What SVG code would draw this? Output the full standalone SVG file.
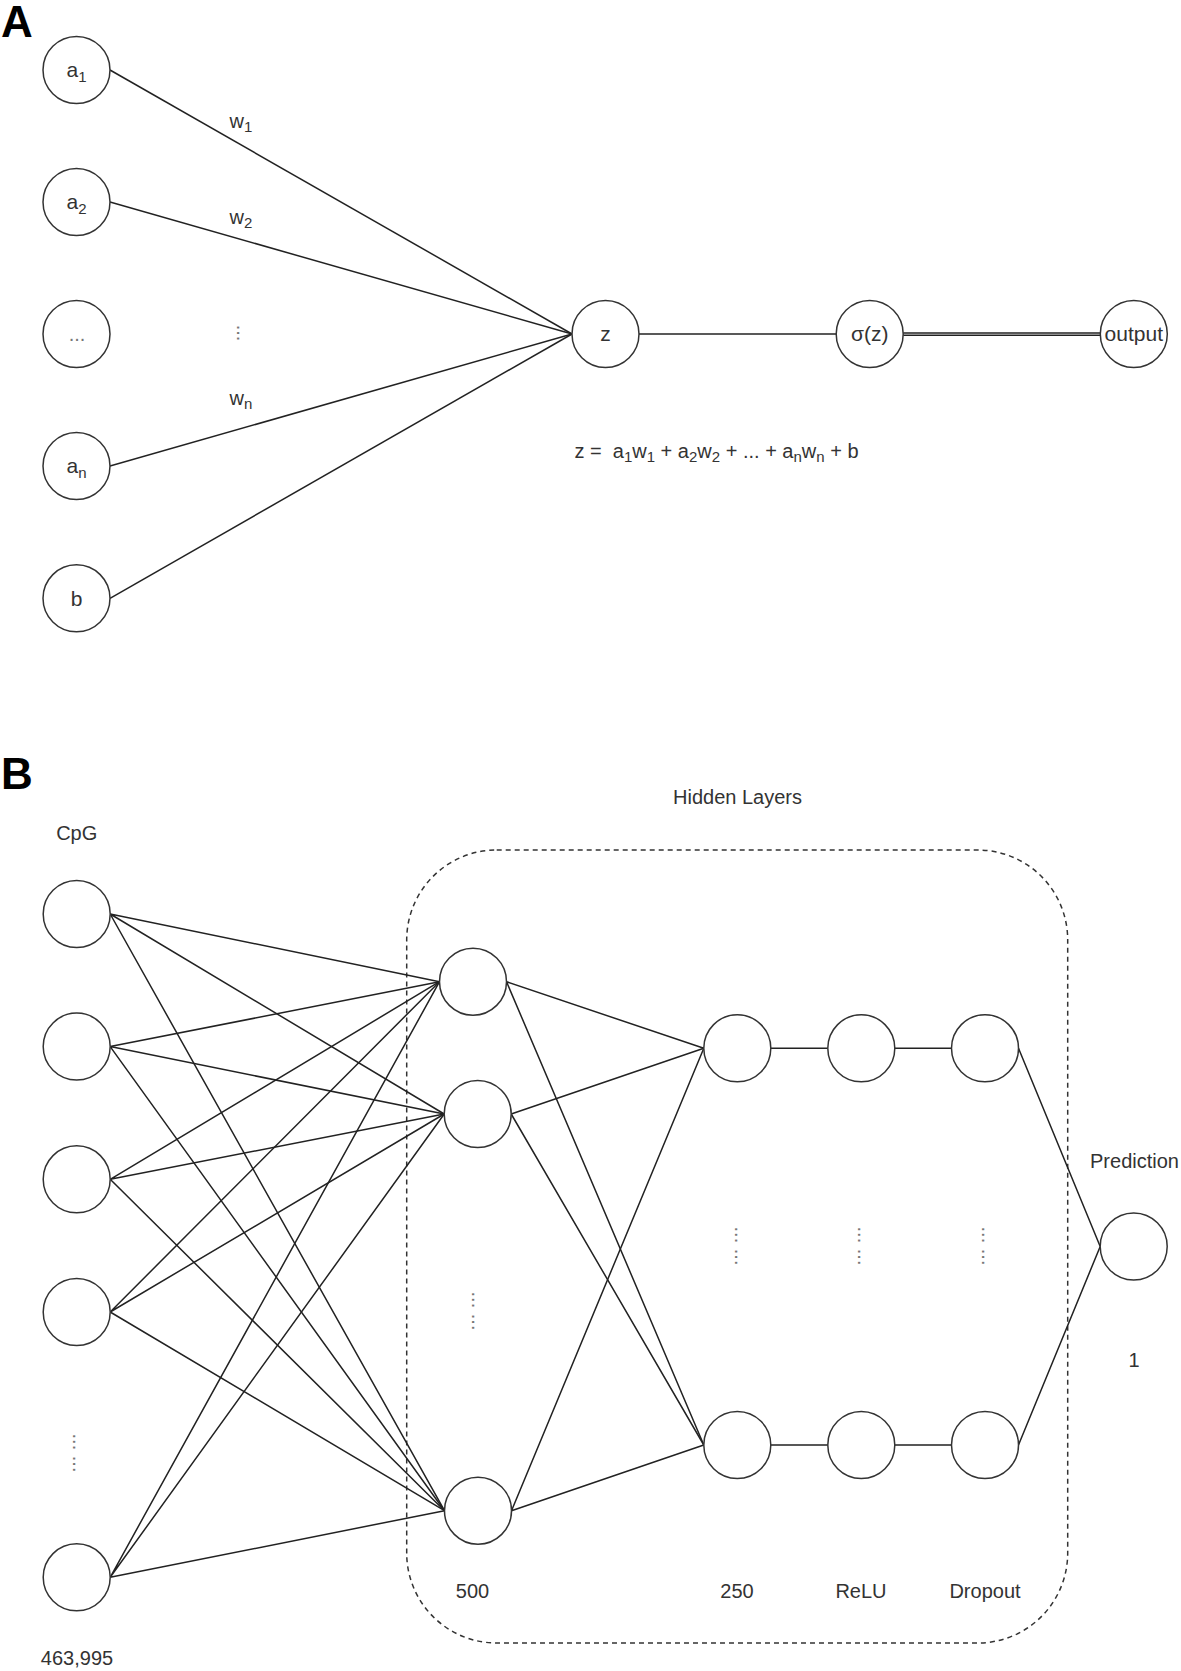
<svg xmlns="http://www.w3.org/2000/svg" width="1181" height="1671" viewBox="0 0 1181 1671">
<style>
.n{fill:#fff;stroke:#333;stroke-width:1.5}
.e{stroke:#222;stroke-width:1.5;fill:none}
.t{font-family:"Liberation Sans",Arial,sans-serif;font-size:20px;fill:#333;text-anchor:middle}
.c{font-size:21px}
.d{fill:#777}
.big{font-family:"Liberation Sans",Arial,sans-serif;font-size:44px;font-weight:bold;fill:#000}
.box{fill:none;stroke:#333;stroke-width:1.5;stroke-dasharray:5 4}
</style>
<rect width="1181" height="1671" fill="#fff"/>
<text class="big" x="1" y="37">A</text>
<text class="big" x="1" y="789">B</text>

<rect id="hidden-box" class="box" x="406.7" y="850" width="661" height="793" rx="90" ry="90"/>

<g id="connectors">
  <!-- panel A -->
  <path class="e" d="M110 70 L572 334"/>
  <path class="e" d="M110 202 L572 334"/>
  <path class="e" d="M110 466 L572 334"/>
  <path class="e" d="M110 598.3 L572 334"/>
  <path class="e" d="M639 334 L836.2 334"/>
  <path class="e" d="M903.2 333 L1100.3 333" stroke="#555" stroke-width="1.2"/>
  <path class="e" d="M903.2 335.3 L1100.3 335.3" stroke="#555" stroke-width="1.2"/>
  <!-- panel B: input -> hidden 500 -->
  <path class="e" d="M110.2 914 L439.5 981.7 M110.2 914 L444.2 1114 M110.2 914 L444.5 1510.7"/>
  <path class="e" d="M110.2 1046.6 L439.5 981.7 M110.2 1046.6 L444.2 1114 M110.2 1046.6 L444.5 1510.7"/>
  <path class="e" d="M110.2 1179.3 L439.5 981.7 M110.2 1179.3 L444.2 1114 M110.2 1179.3 L444.5 1510.7"/>
  <path class="e" d="M110.2 1312 L439.5 981.7 M110.2 1312 L444.2 1114 M110.2 1312 L444.5 1510.7"/>
  <path class="e" d="M110.2 1577.3 L439.5 981.7 M110.2 1577.3 L444.2 1114 M110.2 1577.3 L444.5 1510.7"/>
  <!-- hidden 500 -> 250 -->
  <path class="e" d="M506.5 981.7 L703.8 1048.3 M506.5 981.7 L703.8 1445"/>
  <path class="e" d="M511.2 1114 L703.8 1048.3 M511.2 1114 L703.8 1445"/>
  <path class="e" d="M511.5 1510.7 L703.8 1048.3 M511.5 1510.7 L703.8 1445"/>
  <!-- 250 -> ReLU -> Dropout -->
  <path class="e" d="M770.8 1048.3 L827.8 1048.3 M894.8 1048.3 L951.5 1048.3"/>
  <path class="e" d="M770.8 1445 L827.8 1445 M894.8 1445 L951.5 1445"/>
  <!-- Dropout -> Prediction -->
  <path class="e" d="M1018.5 1048.3 L1100.2 1246.5 M1018.5 1445 L1100.2 1246.5"/>
</g>

<!-- Panel A nodes -->
<g id="a1"><circle class="n" cx="76.5" cy="70" r="33.5"/><text class="t c" x="76.5" y="77">a<tspan font-size="15" dy="5">1</tspan></text></g>
<g id="a2"><circle class="n" cx="76.5" cy="202" r="33.5"/><text class="t c" x="76.5" y="209">a<tspan font-size="15" dy="5">2</tspan></text></g>
<g id="a-dots"><circle class="n" cx="76.5" cy="334" r="33.5"/><text class="t d" x="77" y="341" font-size="16">...</text></g>
<g id="an"><circle class="n" cx="76.5" cy="466" r="33.5"/><text class="t c" x="76.5" y="473">a<tspan font-size="15" dy="5">n</tspan></text></g>
<g id="b"><circle class="n" cx="76.5" cy="598.3" r="33.5"/><text class="t c" x="76.5" y="606">b</text></g>
<g id="z"><circle class="n" cx="605.5" cy="334" r="33.5"/><text class="t c" x="605.5" y="341">z</text></g>
<g id="sigma"><circle class="n" cx="869.7" cy="334" r="33.5"/><text class="t c" x="869.7" y="341">σ(z)</text></g>
<g id="output"><circle class="n" cx="1133.8" cy="334" r="33.5"/><text class="t c" x="1133.8" y="341">output</text></g>

<g id="labels-a">
  <text class="t" x="241" y="127.5">w<tspan font-size="15" dy="4">1</tspan></text>
  <text class="t" x="241" y="224">w<tspan font-size="15" dy="4">2</tspan></text>
  <text class="t" x="241" y="405">w<tspan font-size="15" dy="4">n</tspan></text>
  <text class="t d" transform="translate(236.5,333) rotate(90)">...</text>
  <text class="t" x="716.5" y="458">z =&#160; a<tspan font-size="15" dy="4">1</tspan><tspan dy="-4">w</tspan><tspan font-size="15" dy="4">1</tspan><tspan dy="-4"> + a</tspan><tspan font-size="15" dy="4">2</tspan><tspan dy="-4">w</tspan><tspan font-size="15" dy="4">2</tspan><tspan dy="-4"> + ... + a</tspan><tspan font-size="15" dy="4">n</tspan><tspan dy="-4">w</tspan><tspan font-size="15" dy="4">n</tspan><tspan dy="-4"> + b</tspan></text>
</g>

<!-- Panel B nodes -->
<g id="in1"><circle class="n" cx="76.7" cy="914" r="33.5"/></g>
<g id="in2"><circle class="n" cx="76.7" cy="1046.6" r="33.5"/></g>
<g id="in3"><circle class="n" cx="76.7" cy="1179.3" r="33.5"/></g>
<g id="in4"><circle class="n" cx="76.7" cy="1312" r="33.5"/></g>
<g id="in5"><circle class="n" cx="76.7" cy="1577.3" r="33.5"/></g>
<g id="h1"><circle class="n" cx="473" cy="981.7" r="33.5"/></g>
<g id="h2"><circle class="n" cx="477.7" cy="1114" r="33.5"/></g>
<g id="h3"><circle class="n" cx="478" cy="1510.7" r="33.5"/></g>
<g id="t1"><circle class="n" cx="737.3" cy="1048.3" r="33.5"/></g>
<g id="t2"><circle class="n" cx="737.3" cy="1445" r="33.5"/></g>
<g id="r1"><circle class="n" cx="861.3" cy="1048.3" r="33.5"/></g>
<g id="r2"><circle class="n" cx="861.3" cy="1445" r="33.5"/></g>
<g id="d1"><circle class="n" cx="985" cy="1048.3" r="33.5"/></g>
<g id="d2"><circle class="n" cx="985" cy="1445" r="33.5"/></g>
<g id="pred"><circle class="n" cx="1133.7" cy="1246.5" r="33.5"/></g>

<g id="labels-b">
  <text class="t" x="76.7" y="840">CpG</text>
  <text class="t" x="77" y="1665">463,995</text>
  <text class="t" x="737.5" y="804">Hidden Layers</text>
  <text class="t" x="472.5" y="1598">500</text>
  <text class="t" x="737" y="1598">250</text>
  <text class="t" x="861" y="1598">ReLU</text>
  <text class="t" x="985" y="1598">Dropout</text>
  <text class="t" x="1134.5" y="1168">Prediction</text>
  <text class="t" x="1134" y="1367">1</text>
  <text class="t d" transform="translate(72.5,1453) rotate(90)">... ...</text>
  <text class="t d" transform="translate(471.5,1311) rotate(90)">... ...</text>
  <text class="t d" transform="translate(734.5,1246) rotate(90)">... ...</text>
  <text class="t d" transform="translate(858,1246) rotate(90)">... ...</text>
  <text class="t d" transform="translate(982,1246) rotate(90)">... ...</text>
</g>
</svg>
